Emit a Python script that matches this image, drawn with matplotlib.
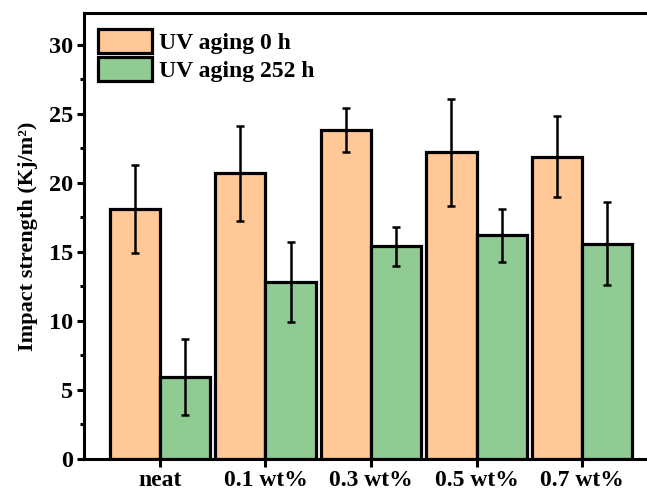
import matplotlib.pyplot as plt
import numpy as np

plt.rcParams['font.family'] = 'Liberation Serif'
plt.rcParams['font.weight'] = 'bold'

# data
groups = ['neat', '0.1 wt%', '0.3 wt%', '0.5 wt%', '0.7 wt%']
aging_0h = [18.1, 20.7, 23.8, 22.2, 21.9]
aging_0h_err = [3.2, 3.45, 1.6, 3.9, 2.95]
aging_252h = [5.95, 12.85, 15.4, 16.2, 15.6]
aging_252h_err = [2.75, 2.9, 1.4, 1.9, 3.0]
series_names = ['UV aging 0 h', 'UV aging 252 h']

orange = '#FFC896'
green = '#8FCB93'

fig = plt.figure(figsize=(6.47, 4.94), dpi=100)
ax = fig.add_axes([84 / 647, 35 / 494, 574 / 647, 446 / 494])

x = np.arange(len(groups))
w = 0.475
err_style = dict(ecolor='black', elinewidth=1.8, capsize=3, capthick=1.8)

ax.bar(x - w / 2, aging_0h, w, yerr=aging_0h_err, color=orange,
       edgecolor='black', linewidth=2.3, error_kw=err_style, label=series_names[0])
ax.bar(x + w / 2, aging_252h, w, yerr=aging_252h_err, color=green,
       edgecolor='black', linewidth=2.3, error_kw=err_style, label=series_names[1])

ax.set_xlim(-0.72, 4.72)
ax.set_ylim(0, 32.3)
ax.set_xticks(x)
ax.set_xticklabels(groups)
ax.set_yticks(np.arange(0, 31, 5))
ax.set_yticks(np.arange(0, 32, 2.5), minor=True)
ax.tick_params(axis='both', which='major', labelsize=17.5, width=2.2, length=5, direction='out')
ax.tick_params(axis='y', which='minor', width=2.2, length=3, direction='out')
ax.tick_params(axis='y', which='major', pad=3)
ax.tick_params(axis='x', which='major', labelsize=17, length=6, pad=2)
for s in ax.spines.values():
    s.set_linewidth(2.2)

ax.set_ylabel('Impact strength (Kj/m²)', fontsize=16, fontweight='bold', labelpad=8)

ax.legend(loc='upper left', bbox_to_anchor=(0.024, 0.965), frameon=False,
          fontsize=17, handlelength=2.3, handleheight=1.2, labelspacing=0.12,
          handletextpad=0.3, borderpad=0, borderaxespad=0)

fig.savefig('out.png', dpi=100)
